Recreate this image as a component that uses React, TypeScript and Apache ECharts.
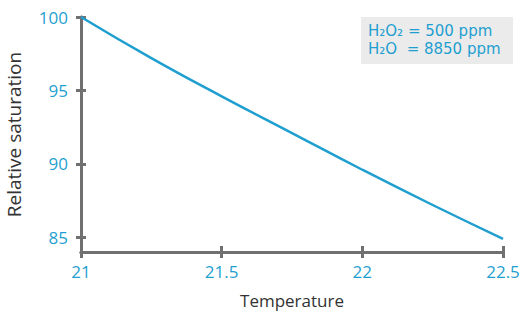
import React, { useEffect, useRef } from "react";
import * as echarts from "echarts";

const temperatures = [21, 21.25, 21.5, 21.75, 22, 22.25, 22.5];
const saturation = [100, 97.2, 94.6, 92.1, 89.6, 87.2, 84.9];
const yTicks = [85, 90, 95, 100];
const xTicks = [21, 21.5, 22, 22.5];
const legendLines = ["H₂O₂ = 500 ppm", "H₂O  = 8850 ppm"];

const BLUE = "#1f9fd0";
const AXIS = "#707070";
const FONT = "Open Sans";

export default function App() {
  const ref = useRef<HTMLDivElement>(null);
  useEffect(() => {
    const chart = echarts.init(ref.current!, null, { renderer: "svg" });
    const baseY = {
      type: "value" as const,
      min: 84,
      max: 100,
      position: "left" as const,
      splitLine: { show: false },
      axisLine: { show: true, lineStyle: { color: AXIS, width: 3 } },
    };
    const baseX = {
      type: "value" as const,
      min: 21,
      max: 22.5,
      position: "bottom" as const,
      splitLine: { show: false },
      axisLine: { show: true, lineStyle: { color: AXIS, width: 3 } },
    };
    chart.setOption({
      animation: false,
      grid: { left: 81, right: 21, top: 17, bottom: 61, outerBoundsMode: "none", containLabel: false },
      xAxis: [
        {
          ...baseX,
          name: "Temperature",
          nameLocation: "middle",
          nameGap: 40,
          nameTextStyle: { color: "#333", fontSize: 17, fontFamily: FONT },
          axisTick: { show: true, customValues: xTicks, length: 6, lineStyle: { color: AXIS, width: 3 } },
          axisLabel: {
            customValues: xTicks,
            color: BLUE,
            fontSize: 17,
            fontFamily: FONT,
            margin: 11,
            showMinLabel: true,
            showMaxLabel: true,
          },
        },
        {
          ...baseX,
          axisTick: { show: true, inside: true, customValues: xTicks, length: 6, lineStyle: { color: AXIS, width: 3 } },
          axisLabel: { show: false },
        },
      ],
      yAxis: [
        {
          ...baseY,
          name: "Relative saturation",
          nameLocation: "middle",
          nameGap: 58,
          nameTextStyle: { color: "#333", fontSize: 19, fontFamily: FONT },
          axisTick: { show: true, customValues: yTicks, length: 5, lineStyle: { color: AXIS, width: 3 } },
          axisLabel: {
            customValues: yTicks,
            color: BLUE,
            fontSize: 17,
            fontFamily: FONT,
            margin: 13,
          },
        },
        {
          ...baseY,
          axisTick: { show: true, inside: true, customValues: yTicks, length: 5, lineStyle: { color: AXIS, width: 3 } },
          axisLabel: { show: false },
        },
      ],
      series: [
        {
          type: "line",
          xAxisIndex: 0,
          yAxisIndex: 0,
          data: temperatures.map((t, i) => [t, saturation[i]]),
          showSymbol: false,
          smooth: true,
          lineStyle: { color: BLUE, width: 2.5 },
        },
      ],
      graphic: [
        {
          type: "rect",
          left: 361,
          top: 17,
          shape: { width: 152, height: 47 },
          style: { fill: "#ebebeb" },
          z: 10,
        },
        {
          type: "text",
          left: 368,
          top: 22,
          z: 11,
          style: {
            text: legendLines.join("\n"),
            fill: BLUE,
            fontSize: 15,
            lineHeight: 18,
            fontFamily: "DejaVu Sans",
          },
        },
      ],
    });
    return () => chart.dispose();
  }, []);
  return <div ref={ref} style={{ width: 524, height: 313, position: "absolute", left: 0, top: 0 }} />;
}
